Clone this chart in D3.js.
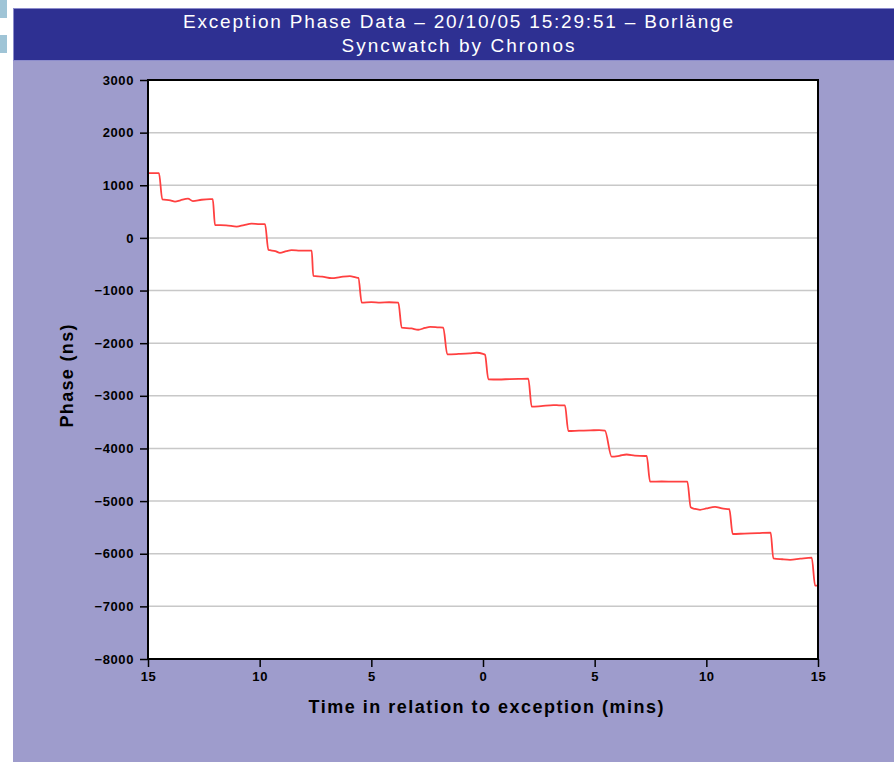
<!DOCTYPE html>
<html>
<head>
<meta charset="utf-8">
<script src="https://cdn.jsdelivr.net/npm/d3@7"></script>
<style>
  body { margin: 0; background: #fff; }
  svg { display: block; }
</style>
</head>
<body>
<svg id="chart" width="894" height="762"></svg>
<script>
// minutes relative to the exception, and measured phase in ns
var times = [-15, -14.51,
  -14.36, -14.0, -13.79, -13.55, -13.21, -12.99, -12.6, -12.22, -12.10,
  -12.0, -11.5, -11.03, -10.7, -10.36, -10.0, -9.76,
  -9.61, -9.3, -9.09, -8.8, -8.57, -8.2, -7.67,
  -7.60, -7.2, -6.77, -6.4, -5.96, -5.7, -5.58,
  -5.43, -5.0, -4.6, -4.2, -3.79,
  -3.64, -3.2, -2.90, -2.6, -2.37, -2.0, -1.78,
  -1.60, -1.1, -0.6, -0.28, 0.0, 0.09,
  0.24, 0.7, 1.2, 1.6, 2.03,
  2.18, 2.6, 3.15, 3.4, 3.67,
  3.82, 4.3, 4.8, 5.2, 5.46,
  5.76, 6.1, 6.43, 6.8, 7.25, 7.33,
  7.48, 8.0, 8.6, 9.15,
  9.30, 9.5, 9.72, 10.0, 10.39, 10.7, 11.03,
  11.18, 11.7, 12.3, 12.88,
  13.0, 13.4, 13.75, 14.2, 14.72,
  14.87, 15];
var phase = [1230, 1230,
  734, 715, 690, 715, 745, 700, 725, 735, 735,
  245, 240, 215, 245, 270, 262, 262,
  -229, -250, -285, -250, -232, -240, -243,
  -723, -735, -765, -745, -725, -750, -760,
  -1231, -1220, -1228, -1222, -1231,
  -1706, -1720, -1745, -1710, -1690, -1700, -1706,
  -2211, -2205, -2195, -2182, -2205, -2220,
  -2686, -2690, -2682, -2678, -2674,
  -3206, -3195, -3175, -3180, -3183,
  -3668, -3662, -3658, -3650, -3662,
  -4156, -4140, -4115, -4135, -4143, -4143,
  -4631, -4628, -4632, -4631,
  -5117, -5150, -5165, -5140, -5108, -5140, -5155,
  -5625, -5618, -5610, -5600,
  -6086, -6105, -6115, -6095, -6075,
  -6607, -6607];
var yTicks = [3000, 2000, 1000, 0, -1000, -2000, -3000, -4000, -5000, -6000, -7000, -8000];
var xTicks = [-15, -10, -5, 0, 5, 10, 15];

var titleLine1 = "Exception Phase Data \u2013 20/10/05 15:29:51 \u2013 Borl\u00e4nge";
var titleLine2 = "Syncwatch by Chronos";

var svg = d3.select("#chart");

// little blue markers at the left edge
svg.append("rect").attr("x", 0).attr("y", 0).attr("width", 7).attr("height", 18).attr("fill", "#9fc4d6");
svg.append("rect").attr("x", 0).attr("y", 35).attr("width", 7).attr("height", 18).attr("fill", "#9fc4d6");

// panel + header
svg.append("rect").attr("x", 13).attr("y", 60).attr("width", 881).attr("height", 702).attr("fill", "#9e9ccc");
svg.append("rect").attr("x", 13.5).attr("y", 8.5).attr("width", 890).attr("height", 52)
  .attr("fill", "#2e3092").attr("stroke", "#8c8ccc").attr("stroke-width", 1);

svg.append("text").attr("x", 458).attr("y", 28).attr("text-anchor", "middle")
  .attr("fill", "#fff").style("font-family", "Liberation Sans, Arial, sans-serif")
  .style("font-size", "19px").attr("textLength", 550).attr("lengthAdjust", "spacing")
  .text(titleLine1);
svg.append("text").attr("x", 458).attr("y", 52).attr("text-anchor", "middle")
  .attr("fill", "#fff").style("font-family", "Liberation Sans, Arial, sans-serif")
  .style("font-size", "19px").attr("textLength", 233).attr("lengthAdjust", "spacing")
  .text(titleLine2);

var plotLeft = 148, plotRight = 818, plotTop = 80, plotBottom = 659;

var x = d3.scaleLinear().domain([-15, 15]).range([plotLeft, plotRight]);
var y = d3.scaleLinear().domain([-8000, 3000]).range([plotBottom, plotTop]);

// plot background
svg.append("rect").attr("x", plotLeft).attr("y", plotTop)
  .attr("width", plotRight - plotLeft).attr("height", plotBottom - plotTop)
  .attr("fill", "#fff");

// gridlines
svg.append("g").selectAll("line")
  .data(yTicks.filter(function (d) { return d > -8000 && d < 3000; }))
  .enter().append("line")
  .attr("x1", plotLeft).attr("x2", plotRight)
  .attr("y1", function (d) { return y(d); }).attr("y2", function (d) { return y(d); })
  .attr("stroke", "#c8c8c8").attr("stroke-width", 1.5);

// phase trace
var line = d3.line()
  .x(function (d, i) { return x(times[i]); })
  .y(function (d) { return y(d); })
  .curve(d3.curveMonotoneX);

svg.append("path").datum(phase)
  .attr("d", line)
  .attr("fill", "none")
  .attr("stroke", "#ff4040")
  .attr("stroke-width", 1.8)
  .attr("stroke-linejoin", "round");

// frame
svg.append("rect").attr("x", plotLeft).attr("y", plotTop)
  .attr("width", plotRight - plotLeft).attr("height", plotBottom - plotTop)
  .attr("fill", "none").attr("stroke", "#000").attr("stroke-width", 2);

var fmtY = function (d) { return d < 0 ? "\u2212" + Math.abs(d) : String(d); };

var yAxis = svg.append("g").attr("transform", "translate(" + plotLeft + ",0)")
  .call(d3.axisLeft(y).tickValues(yTicks).tickSize(8).tickPadding(6).tickFormat(fmtY));
var xAxis = svg.append("g").attr("transform", "translate(0," + plotBottom + ")")
  .call(d3.axisBottom(x).tickValues(xTicks).tickSize(8).tickPadding(5)
    .tickFormat(function (d) { return Math.abs(d); }));

[yAxis, xAxis].forEach(function (a) {
  a.attr("font-size", null).attr("font-family", null);
  a.select(".domain").remove();
  a.selectAll(".tick line").attr("stroke", "#000").attr("stroke-width", 1.5);
  a.selectAll(".tick text").attr("fill", "#000")
    .style("font-family", "Liberation Sans, Arial, sans-serif")
    .style("font-weight", "bold")
    .style("font-size", "13px").style("letter-spacing", "0.6px");
});

// axis titles
svg.append("text").attr("x", 486).attr("y", 713).attr("text-anchor", "middle")
  .style("font-family", "Liberation Sans, Arial, sans-serif").style("font-weight", "bold")
  .style("font-size", "18px").attr("textLength", 355).attr("lengthAdjust", "spacing")
  .text("Time in relation to exception (mins)");

svg.append("text").attr("transform", "translate(73,376) rotate(-90)").attr("text-anchor", "middle")
  .style("font-family", "Liberation Sans, Arial, sans-serif").style("font-weight", "bold")
  .style("font-size", "18px").attr("textLength", 103).attr("lengthAdjust", "spacing")
  .text("Phase (ns)");
</script>
</body>
</html>
